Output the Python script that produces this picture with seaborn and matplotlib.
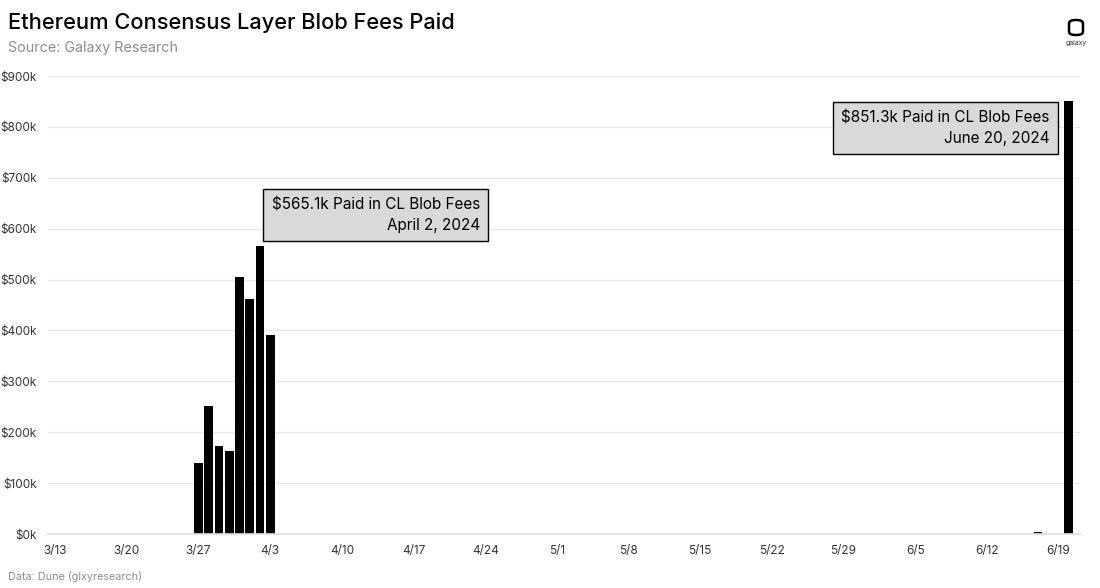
import pandas as pd
import matplotlib.pyplot as plt
import seaborn as sns
from matplotlib.patches import FancyBboxPatch

# ===== DATA =====
fee_dates = ["2024-03-27", "2024-03-28", "2024-03-29", "2024-03-30", "2024-03-31",
             "2024-04-01", "2024-04-02", "2024-04-03", "2024-06-17", "2024-06-20"]
fee_values = [140, 252, 172, 164, 505, 462, 565.1, 392, 4, 851.3]  # $k

start_date = "2024-03-13"
end_date = "2024-06-20"

y_ticks = [0, 100, 200, 300, 400, 500, 600, 700, 800, 900]

notes = [
    ("$565.1k Paid in CL Blob Fees\nApril 2, 2024", "2024-04-02"),
    ("$851.3k Paid in CL Blob Fees\nJune 20, 2024", "2024-06-20"),
]

# ===== FRAME =====
days = pd.date_range(start_date, end_date, freq="D")
fees = pd.Series(fee_values, index=pd.to_datetime(fee_dates)).reindex(days, fill_value=0)
df = pd.DataFrame({"day": [f"{d.month}/{d.day}" for d in days], "fees": fees.values})

sns.set_theme(style="white")
plt.rcParams["font.family"] = ["Inter", "DejaVu Sans"]

fig = plt.figure(figsize=(11, 5.88), dpi=100)
ax = fig.add_axes([48 / 1100, 1 - 534 / 588, 1032 / 1100, 458 / 588])

sns.barplot(data=df, x="day", y="fees", color="black", width=0.86,
            saturation=1, ax=ax, edgecolor="none")

ax.set_xlim(-0.7, 100.1)
ax.set_ylim(0, 900)
ax.set_yticks(y_ticks)
ax.set_yticklabels([f"${v}k" for v in y_ticks], fontsize=8.5, color="#333333")
xt = list(range(0, len(days), 7))
ax.set_xticks(xt)
ax.set_xticklabels([df["day"][i] for i in xt], fontsize=8.5, color="#333333")
ax.tick_params(axis="x", length=3, color="#dddddd", pad=5)
ax.tick_params(axis="y", length=0, pad=8)
ax.grid(axis="y", color="#e8e8e8", linewidth=0.9)
ax.set_axisbelow(True)
for s in ["top", "right", "left"]:
    ax.spines[s].set_visible(False)
ax.spines["bottom"].set_color("#dddddd")
ax.set_xlabel("")
ax.set_ylabel("")

# annotation boxes
box_pos = {"2024-04-02": (41.5, 661), "2024-06-20": (97.1, 832)}
for txt, d in notes:
    x, y = box_pos[d]
    ax.text(x, y, txt, ha="right", va="top", multialignment="right",
            fontsize=11, color="black", linespacing=1.45,
            bbox=dict(boxstyle="square,pad=0.55", facecolor="#d9d9d9",
                      edgecolor="black", linewidth=1))

# titles
fig.text(8 / 1100, 1 - 23 / 588, "Ethereum Consensus Layer Blob Fees Paid",
         fontsize=15.7, fontweight="medium", color="black", va="center")
fig.text(8 / 1100, 1 - 48 / 588, "Source: Galaxy Research",
         fontsize=10.3, color="#8c8c8c", va="center")
fig.text(8 / 1100, 1 - 577 / 588, "Data: Dune (glxyresearch)",
         fontsize=7.8, color="#8c8c8c", va="center")

# logo
logo = FancyBboxPatch((1069 / 1100, 1 - 35 / 588), 14 / 1100, 15 / 588,
                      boxstyle="round,pad=0,rounding_size=0.006",
                      transform=fig.transFigure, facecolor="none",
                      edgecolor="black", linewidth=1.8)
fig.patches.append(logo)
fig.text(1076 / 1100, 1 - 43 / 588, "galaxy", fontsize=5, color="#333333",
         ha="center", va="center")

fig.savefig("out.png", dpi=100)
